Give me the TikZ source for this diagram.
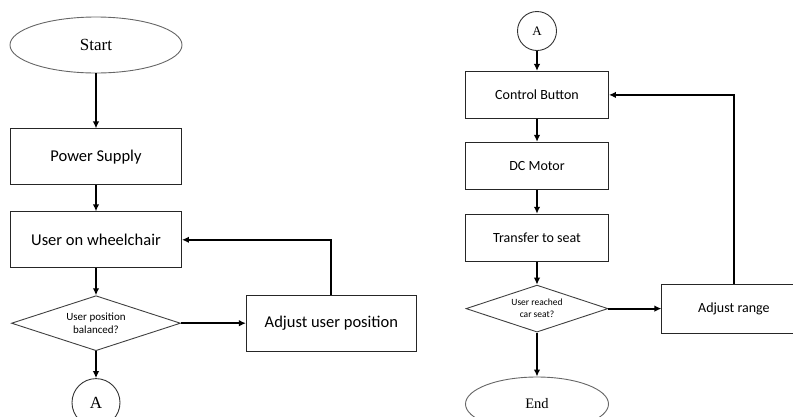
\documentclass[tikz,border=0pt]{standalone}
\usepackage{fontspec}
\setmainfont{Carlito}
\newfontfamily\termfont{Liberation Serif}
\usetikzlibrary{positioning,shapes.geometric,arrows.meta}

\tikzset{
  flowbox/.style={rectangle, draw=black!85, line width=0.9pt, inner sep=0pt},
  decision/.style={diamond, draw=black!75, line width=0.9pt, inner sep=0pt, aspect=3, align=center},
  terminal/.style={ellipse, draw=black!60, line width=0.9pt, inner sep=0pt, font=\termfont},
  connector/.style={circle, draw=black!80, line width=0.9pt, inner sep=0pt, font=\termfont},
  flow/.style={line width=1.9pt, -{Latex[length=7pt,width=6.5pt]}},
}

\begin{document}
\begin{tikzpicture}[x=1pt, y=1pt]
    \path[use as bounding box, clip] (0,0) rectangle (793,-416);

    % left part
    \node[terminal, minimum width=172pt, minimum height=56pt, font=\termfont\fontsize{17}{20}\selectfont] (start) at (96,-45) {Start};
    \node[flowbox, minimum width=171pt, minimum height=56pt, font=\fontsize{16.5}{20}\selectfont] (power) [below=55pt of start] {Power Supply};
    \node[flowbox, minimum width=171pt, minimum height=56pt, font=\fontsize{16.5}{20}\selectfont] (user) [below=26pt of power] {User on wheelchair};
    \node[decision, minimum width=169pt, minimum height=55pt, font=\fontsize{11}{13}\selectfont] (balance) [below=27pt of user] {User position\\balanced?};
    \node[flowbox, minimum width=170pt, minimum height=56pt, font=\fontsize{16.5}{20}\selectfont] (adjuser) [right=65pt of balance] {Adjust user position};
    \node[connector, minimum size=48pt, font=\termfont\fontsize{17}{20}\selectfont] (conA) [below=27pt of balance] {A};

    \draw[flow] (start.south) -- (power.north);
    \draw[flow] (power.south) -- (user.north);
    \draw[flow] (user.south) -- (balance.north);
    \draw[flow] (balance.east) -- (adjuser.west);
    \draw[flow] (adjuser.north) |- (user.east);
    \draw[flow] (balance.south) -- (conA.north);

    % right part
    \node[connector, minimum size=39pt, font=\termfont\fontsize{13}{16}\selectfont] (conB) at (537,-31) {A};
    \node[flowbox, minimum width=143pt, minimum height=47pt, font=\fontsize{14}{17}\selectfont] (ctrl) [below=20pt of conB] {Control Button};
    \node[flowbox, minimum width=143pt, minimum height=47pt, font=\fontsize{14}{17}\selectfont] (motor) [below=23pt of ctrl] {DC Motor};
    \node[flowbox, minimum width=143pt, minimum height=47pt, font=\fontsize{14}{17}\selectfont] (transfer) [below=24pt of motor] {Transfer to seat};
    \node[decision, minimum width=142pt, minimum height=47pt, font=\fontsize{9.5}{12}\selectfont] (reached) [below=23pt of transfer] {User reached\\car seat?};
    \node[flowbox, minimum width=144pt, minimum height=49pt, font=\fontsize{14}{17}\selectfont] (adjrange) [right=53pt of reached] {Adjust range};
    \node[terminal, minimum width=143pt, minimum height=54pt, font=\termfont\fontsize{14.5}{17}\selectfont] (endnode) [below=44pt of reached] {End};

    \draw[flow] (conB.south) -- (ctrl.north);
    \draw[flow] (ctrl.south) -- (motor.north);
    \draw[flow] (motor.south) -- (transfer.north);
    \draw[flow] (transfer.south) -- (reached.north);
    \draw[flow] (reached.east) -- (adjrange.west);
    \draw[flow] (adjrange.north) |- (ctrl.east);
    \draw[flow] (reached.south) -- (endnode.north);
\end{tikzpicture}
\end{document}
